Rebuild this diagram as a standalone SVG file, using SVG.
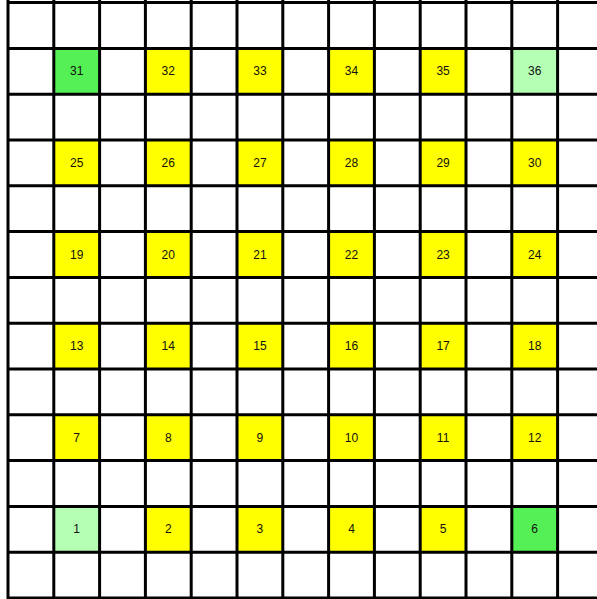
<svg xmlns="http://www.w3.org/2000/svg" width="597" height="599" viewBox="0 0 597 599">
<style>
.y{fill:#ffff00}
.g{fill:#55f055}
.lg{fill:#b4ffb4}
.ln{stroke:#000;stroke-width:3;fill:none}
text{font-family:"Liberation Sans",Arial,sans-serif;font-size:12px;fill:#111;text-anchor:middle;dominant-baseline:central}
</style>
<rect width="597" height="599" fill="#fff"/>
<g id="cells">
<g id="c31"><rect class="g" x="53.8" y="48.4" width="45.8" height="45.8"/><text x="76.7" y="71.3">31</text></g>
<g id="c32"><rect class="y" x="145.4" y="48.4" width="45.8" height="45.8"/><text x="168.3" y="71.3">32</text></g>
<g id="c33"><rect class="y" x="237" y="48.4" width="45.8" height="45.8"/><text x="259.9" y="71.3">33</text></g>
<g id="c34"><rect class="y" x="328.6" y="48.4" width="45.8" height="45.8"/><text x="351.5" y="71.3">34</text></g>
<g id="c35"><rect class="y" x="420.2" y="48.4" width="45.8" height="45.8"/><text x="443.1" y="71.3">35</text></g>
<g id="c36"><rect class="lg" x="511.8" y="48.4" width="45.8" height="45.8"/><text x="534.7" y="71.3">36</text></g>

<g id="c25"><rect class="y" x="53.8" y="140" width="45.8" height="45.8"/><text x="76.7" y="162.9">25</text></g>
<g id="c26"><rect class="y" x="145.4" y="140" width="45.8" height="45.8"/><text x="168.3" y="162.9">26</text></g>
<g id="c27"><rect class="y" x="237" y="140" width="45.8" height="45.8"/><text x="259.9" y="162.9">27</text></g>
<g id="c28"><rect class="y" x="328.6" y="140" width="45.8" height="45.8"/><text x="351.5" y="162.9">28</text></g>
<g id="c29"><rect class="y" x="420.2" y="140" width="45.8" height="45.8"/><text x="443.1" y="162.9">29</text></g>
<g id="c30"><rect class="y" x="511.8" y="140" width="45.8" height="45.8"/><text x="534.7" y="162.9">30</text></g>

<g id="c19"><rect class="y" x="53.8" y="231.6" width="45.8" height="45.8"/><text x="76.7" y="254.5">19</text></g>
<g id="c20"><rect class="y" x="145.4" y="231.6" width="45.8" height="45.8"/><text x="168.3" y="254.5">20</text></g>
<g id="c21"><rect class="y" x="237" y="231.6" width="45.8" height="45.8"/><text x="259.9" y="254.5">21</text></g>
<g id="c22"><rect class="y" x="328.6" y="231.6" width="45.8" height="45.8"/><text x="351.5" y="254.5">22</text></g>
<g id="c23"><rect class="y" x="420.2" y="231.6" width="45.8" height="45.8"/><text x="443.1" y="254.5">23</text></g>
<g id="c24"><rect class="y" x="511.8" y="231.6" width="45.8" height="45.8"/><text x="534.7" y="254.5">24</text></g>

<g id="c13"><rect class="y" x="53.8" y="323.2" width="45.8" height="45.8"/><text x="76.7" y="346.1">13</text></g>
<g id="c14"><rect class="y" x="145.4" y="323.2" width="45.8" height="45.8"/><text x="168.3" y="346.1">14</text></g>
<g id="c15"><rect class="y" x="237" y="323.2" width="45.8" height="45.8"/><text x="259.9" y="346.1">15</text></g>
<g id="c16"><rect class="y" x="328.6" y="323.2" width="45.8" height="45.8"/><text x="351.5" y="346.1">16</text></g>
<g id="c17"><rect class="y" x="420.2" y="323.2" width="45.8" height="45.8"/><text x="443.1" y="346.1">17</text></g>
<g id="c18"><rect class="y" x="511.8" y="323.2" width="45.8" height="45.8"/><text x="534.7" y="346.1">18</text></g>

<g id="c7"><rect class="y" x="53.8" y="414.8" width="45.8" height="45.8"/><text x="76.7" y="437.7">7</text></g>
<g id="c8"><rect class="y" x="145.4" y="414.8" width="45.8" height="45.8"/><text x="168.3" y="437.7">8</text></g>
<g id="c9"><rect class="y" x="237" y="414.8" width="45.8" height="45.8"/><text x="259.9" y="437.7">9</text></g>
<g id="c10"><rect class="y" x="328.6" y="414.8" width="45.8" height="45.8"/><text x="351.5" y="437.7">10</text></g>
<g id="c11"><rect class="y" x="420.2" y="414.8" width="45.8" height="45.8"/><text x="443.1" y="437.7">11</text></g>
<g id="c12"><rect class="y" x="511.8" y="414.8" width="45.8" height="45.8"/><text x="534.7" y="437.7">12</text></g>

<g id="c1"><rect class="lg" x="53.8" y="506.4" width="45.8" height="45.8"/><text x="76.7" y="529.3">1</text></g>
<g id="c2"><rect class="y" x="145.4" y="506.4" width="45.8" height="45.8"/><text x="168.3" y="529.3">2</text></g>
<g id="c3"><rect class="y" x="237" y="506.4" width="45.8" height="45.8"/><text x="259.9" y="529.3">3</text></g>
<g id="c4"><rect class="y" x="328.6" y="506.4" width="45.8" height="45.8"/><text x="351.5" y="529.3">4</text></g>
<g id="c5"><rect class="y" x="420.2" y="506.4" width="45.8" height="45.8"/><text x="443.1" y="529.3">5</text></g>
<g id="c6"><rect class="g" x="511.8" y="506.4" width="45.8" height="45.8"/><text x="534.7" y="529.3">6</text></g>
</g>
<g id="grid" class="ln">
<path d="M8 0V599M53.8 0V599M99.6 0V599M145.4 0V599M191.2 0V599M237 0V599M282.8 0V599M328.6 0V599M374.4 0V599M420.2 0V599M466 0V599M511.8 0V599M557.6 0V599"/>
<path d="M8 2.6H597M8 48.4H597M8 94.2H597M8 140H597M8 185.8H597M8 231.6H597M8 277.4H597M8 323.2H597M8 369H597M8 414.8H597M8 460.6H597M8 506.4H597M8 552.2H597M8 598H597"/>
</g>
</svg>
